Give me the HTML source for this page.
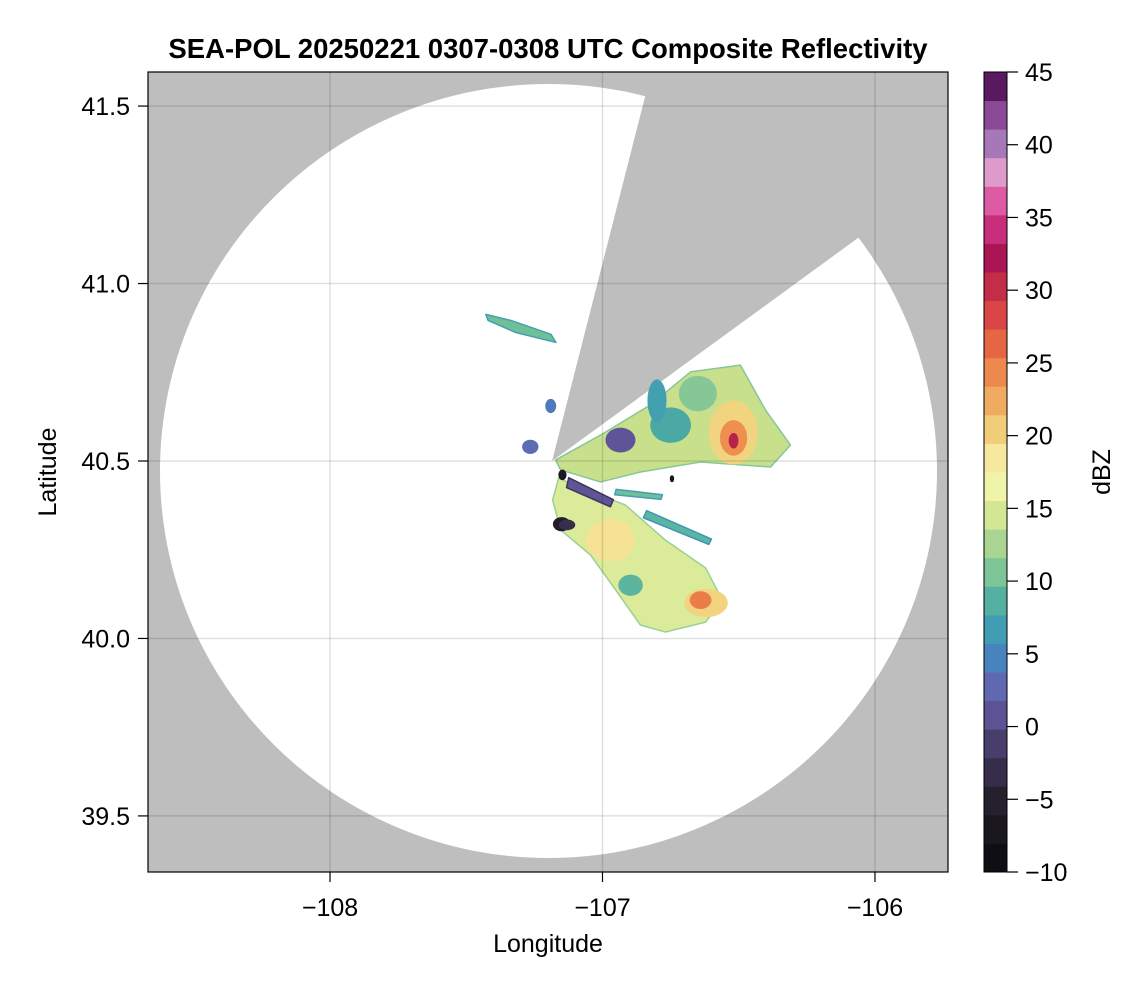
<!DOCTYPE html>
<html><head><meta charset="utf-8"><style>
body{margin:0;background:#fff;}
svg text{font-family:"Liberation Sans",sans-serif;fill:#000;}
</style></head><body>
<svg id="chart" width="1146" height="990" viewBox="0 0 1146 990" xmlns="http://www.w3.org/2000/svg">
<defs><clipPath id="plotclip"><rect x="148" y="72" width="800" height="800"/></clipPath></defs>
<text x="548" y="58" font-size="27.5" font-weight="bold" text-anchor="middle">SEA-POL 20250221 0307-0308 UTC Composite Reflectivity</text>
<g id="plot" clip-path="url(#plotclip)"></g>
<rect x="148" y="72" width="800" height="800" fill="none" stroke="#000" stroke-width="1.2"/>
<g id="axes"></g>
<g id="cbar"></g>
<text x="548" y="952" font-size="25" text-anchor="middle">Longitude</text>
<text transform="translate(56,472) rotate(-90)" font-size="25" text-anchor="middle">Latitude</text>
<text transform="translate(1110,472) rotate(-90)" font-size="25" text-anchor="middle">dBZ</text>
</svg>
<script>
const xTicks = [-108, -107, -106];
const yTicks = [39.5, 40.0, 40.5, 41.0, 41.5];
const yTickLabels = ["39.5", "40.0", "40.5", "41.0", "41.5"];
const cbarTicks = [-10, -5, 0, 5, 10, 15, 20, 25, 30, 35, 40, 45];
const cmapValues = [-10,-5,-2,0,2,4,6,8,10,12,14,16,18,20,22,24,26,28,30,32,34,36,38,40,42,44,45];
const cmapColors = ["#0a0a0f","#25202e","#3e355a","#544a86","#6a5eaa","#4d79bd","#3c96bc","#4aa9a5","#6fbf99","#9ccf94","#c8e08c","#eef5a8","#f7f0a8","#f2d480","#efb466","#ee8f50","#e86b43","#dd4a45","#c83146","#a8124e","#c62a78","#dc55a2","#e39ccd","#a87ab8","#8c4a9a","#5a1a62","#450f4c"];
const radarCenter = [-107.185, 40.5];
// echo polygons: [dbz, [[lon,lat],...]]
const echoPolygons = [
 [14, [[-107.172,40.503],[-107.007,40.573],[-106.824,40.658],[-106.677,40.751],[-106.494,40.770],[-106.402,40.644],[-106.310,40.545],[-106.383,40.483],[-106.640,40.497],[-106.861,40.469],[-107.007,40.441],[-107.154,40.475]]],
 [15, [[-107.161,40.452],[-107.062,40.418],[-106.916,40.376],[-106.769,40.277],[-106.622,40.199],[-106.560,40.108],[-106.622,40.046],[-106.769,40.018],[-106.861,40.038],[-106.952,40.137],[-107.044,40.235],[-107.154,40.306],[-107.183,40.390]]],
 [1, [[-107.124,40.453],[-106.960,40.391],[-106.971,40.371],[-107.132,40.425]]],
 [10, [[-107.428,40.913],[-107.336,40.896],[-107.189,40.857],[-107.171,40.834],[-107.318,40.862],[-107.420,40.896]]],
 [9, [[-106.838,40.360],[-106.600,40.280],[-106.610,40.265],[-106.850,40.340]]],
 [10, [[-106.950,40.420],[-106.780,40.405],[-106.785,40.392],[-106.955,40.405]]]
];
// echo cells (ellipses): [dbz, lon, lat, rxDeg, ryDeg]
const echoCells = [
 [11, -106.650, 40.690, 0.07, 0.05],
 [8, -106.750, 40.601, 0.075, 0.05],
 [7, -106.800, 40.670, 0.035, 0.06],
 [1, -106.934, 40.559, 0.055, 0.035],
 [20, -106.520, 40.580, 0.09, 0.09],
 [24, -106.519, 40.565, 0.05, 0.05],
 [31, -106.519, 40.557, 0.018, 0.022],
 [19, -106.971, 40.277, 0.09, 0.06],
 [20, -106.620, 40.100, 0.08, 0.04],
 [25, -106.640, 40.108, 0.04, 0.025],
 [9, -106.897, 40.150, 0.045, 0.03],
 [-6, -107.150, 40.322, 0.032, 0.02],
 [-7, -107.147, 40.461, 0.015, 0.015],
 [3, -107.265, 40.540, 0.03, 0.02],
 [4, -107.190, 40.655, 0.02, 0.02],
 [-8, -106.745, 40.450, 0.008, 0.01],
 [-3, -107.130, 40.320, 0.03, 0.015]
];
const NS='http://www.w3.org/2000/svg';
const L=148,R=948,T=72,B=872;
const lonMin=-108.668,lonMax=-105.732,latMin=39.342,latMax=41.596;
const sx=v=>L+(v-lonMin)/(lonMax-lonMin)*(R-L);
const sy=v=>B-(v-latMin)/(latMax-latMin)*(B-T);
function hex2rgb(h){return [1,3,5].map(i=>parseInt(h.substr(i,2),16));}
function cmap(v){
 if(v<=cmapValues[0])return cmapColors[0];
 for(let i=1;i<cmapValues.length;i++){if(v<=cmapValues[i]){const t=(v-cmapValues[i-1])/(cmapValues[i]-cmapValues[i-1]);const a=hex2rgb(cmapColors[i-1]),b=hex2rgb(cmapColors[i]);return 'rgb('+a.map((c,k)=>Math.round(c+(b[k]-c)*t)).join(',')+')';}}
 return cmapColors[cmapColors.length-1];
}
function el(tag,attrs,parent){const e=document.createElementNS(NS,tag);for(const k in attrs)e.setAttribute(k,attrs[k]);parent.appendChild(e);return e;}
const plot=document.getElementById('plot');
let bg=el('rect',{x:L,y:T,width:800,height:800,fill:'#bebebe'},plot);


const cx=sx(radarCenter[0]),cy=sy(radarCenter[1]);
let circ=el('ellipse',{cx:548.5,cy:471,rx:388.5,ry:387,fill:'#fff'},plot);


const w1=[645-cx,97-cy],w2=[858-cx,238-cy];
let wedge=el('polygon',{points:`${cx},${cy} ${cx+w1[0]*3},${cy+w1[1]*3} ${cx+w2[0]*4},${cy+w2[1]*4}`,fill:'#bebebe'},plot);


echoPolygons.forEach(p=>{
 const pts=p[1].map(q=>sx(q[0])+','+sy(q[1])).join(' ');
 const e=el('polygon',{points:pts,fill:cmap(p[0]),stroke:cmap(p[0]-3),'stroke-width':1.5,'stroke-linejoin':'round'},plot);
 
 
});
const kx=(R-L)/(lonMax-lonMin),ky=(B-T)/(latMax-latMin);
echoCells.forEach(c=>{
 const e=el('ellipse',{cx:sx(c[1]),cy:sy(c[2]),rx:c[3]*kx,ry:c[4]*ky,fill:cmap(c[0])},plot);
 
 
});
xTicks.forEach(v=>{const e=el('line',{x1:sx(v),x2:sx(v),y1:T,y2:B,stroke:'rgba(0,0,0,0.12)','stroke-width':1.5},plot);});
yTicks.forEach(v=>{const e=el('line',{x1:L,x2:R,y1:sy(v),y2:sy(v),stroke:'rgba(0,0,0,0.12)','stroke-width':1.5},plot);});
const axes=document.getElementById('axes');
xTicks.forEach(v=>{
 const t=el('line',{x1:sx(v),x2:sx(v),y1:B,y2:B+10,stroke:'#000','stroke-width':1.2},axes);
 
 
 const tx=el('text',{x:sx(v),y:B+44,'font-size':25,'text-anchor':'middle'},axes);
 tx.textContent='\u2212'+Math.abs(v);
 
 
});
yTicks.forEach((v,i)=>{
 const t=el('line',{x1:L-10,x2:L,y1:sy(v),y2:sy(v),stroke:'#000','stroke-width':1.2},axes);
 
 
 const tx=el('text',{x:L-18,y:sy(v)+9,'font-size':25,'text-anchor':'end'},axes);
 tx.textContent=yTickLabels[i];
 
 
});
const cb=document.getElementById('cbar');
const cbL=984,cbW=23,cbT=72,cbB=872,vmin=-10,vmax=45,nb=28;
const cys=v=>cbB-(v-vmin)/(vmax-vmin)*(cbB-cbT);
for(let i=0;i<nb;i++){
 const v0=vmin+(vmax-vmin)*i/nb,v1=vmin+(vmax-vmin)*(i+1)/nb;
 const r=el('rect',{x:cbL,y:cys(v1),width:cbW,height:cys(v0)-cys(v1)+0.5,fill:cmap((v0+v1)/2)},cb);
 
 
}
let fr=el('rect',{x:cbL,y:cbT,width:cbW,height:cbB-cbT,fill:'none',stroke:'#000','stroke-width':1},cb);


cbarTicks.forEach(v=>{
 const t=el('line',{x1:cbL+cbW,x2:cbL+cbW+11,y1:cys(v),y2:cys(v),stroke:'#000','stroke-width':1.2},cb);
 
 
 const tx=el('text',{x:cbL+cbW+18,y:cys(v)+9,'font-size':25},cb);
 tx.textContent=(v<0?'\u2212':'')+Math.abs(v);
 
 
});
</script>
</body></html>
